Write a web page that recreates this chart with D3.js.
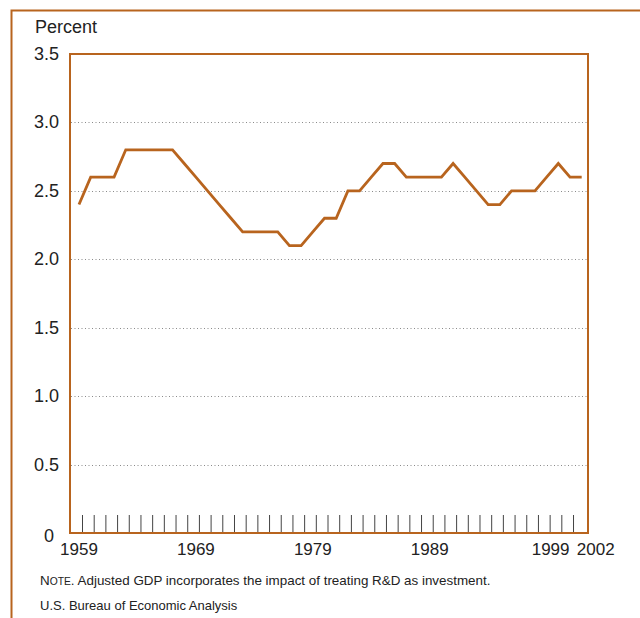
<!DOCTYPE html>
<html>
<head>
<meta charset="utf-8">
<script src="https://cdn.jsdelivr.net/npm/d3@7"></script>
<style>
  body { margin: 0; background: #fff; }
  text { font-family: "Liberation Sans", Arial, sans-serif; fill: #222; }
</style>
</head>
<body>
<svg id="chart" width="640" height="618"></svg>
<script>
// R&D investment as a share of adjusted GDP, 1959-2002 (percent)
const years = d3.range(1959, 2003);
const rdShare = [2.4, 2.6, 2.6, 2.6, 2.8, 2.8, 2.8, 2.8, 2.8, 2.7, 2.6, 2.5, 2.4, 2.3,
                 2.2, 2.2, 2.2, 2.2, 2.1, 2.1, 2.2, 2.3, 2.3, 2.5, 2.5, 2.6, 2.7, 2.7,
                 2.6, 2.6, 2.6, 2.6, 2.7, 2.6, 2.5, 2.4, 2.4, 2.5, 2.5, 2.5, 2.6, 2.7,
                 2.6, 2.6];
const yTicks = [0, 0.5, 1.0, 1.5, 2.0, 2.5, 3.0, 3.5];
const xLabels = [1959, 1969, 1979, 1989, 1999, 2002];

const ORANGE = "#b8641e";

function drawChart() {
    const svg = d3.select("#chart");
    svg.selectAll("*").remove();

    const frame = { left: 70, right: 588, top: 54, bottom: 533 };

    const x = d3.scaleLinear()
        .domain([1959, 2002])
        .range([79, 581.7]);

    const y = d3.scaleLinear()
        .domain([0, 3.5])
        .range([frame.bottom, frame.top]);

    // outer border (left + top edges only)
    svg.append("path")
        .attr("d", `M11.5,618V10.5H640`)
        .attr("fill", "none")
        .attr("stroke", ORANGE)
        .attr("stroke-width", 2);

    // dotted gridlines
    svg.selectAll(".grid")
        .data(yTicks.filter(d => d > 0 && d < 3.5))
        .enter().append("line")
        .attr("class", "grid")
        .attr("x1", frame.left + 1)
        .attr("x2", frame.right - 1)
        .attr("y1", d => Math.round(y(d)) + 0.5)
        .attr("y2", d => Math.round(y(d)) + 0.5)
        .attr("stroke", "#8a8a8a")
        .attr("stroke-width", 1)
        .attr("stroke-dasharray", "1,2.5");

    // yearly tick marks along the bottom
    svg.selectAll(".tick")
        .data(years.slice(0, -1))
        .enter().append("line")
        .attr("class", "tick")
        .attr("x1", d => x(d + 0.3))
        .attr("x2", d => x(d + 0.3))
        .attr("y1", frame.bottom - 18)
        .attr("y2", frame.bottom)
        .attr("stroke", "#444")
        .attr("stroke-width", 1);

    // plot frame
    svg.append("rect")
        .attr("x", frame.left)
        .attr("y", frame.top)
        .attr("width", frame.right - frame.left)
        .attr("height", frame.bottom - frame.top)
        .attr("fill", "none")
        .attr("stroke", ORANGE)
        .attr("stroke-width", 2);

    // the series
    const line = d3.line()
        .x((d, i) => x(years[i]))
        .y(d => y(d));

    svg.append("path")
        .datum(rdShare)
        .attr("d", line)
        .attr("fill", "none")
        .attr("stroke", ORANGE)
        .attr("stroke-width", 2.8)
        .attr("stroke-linejoin", "miter");

    // y labels
    svg.selectAll(".ylab")
        .data(yTicks)
        .enter().append("text")
        .attr("class", "ylab")
        .attr("x", d => d === 0 ? 54 : 59)
        .attr("y", d => y(d) + (d === 0 ? 9 : 6))
        .attr("text-anchor", "end")
        .style("font-size", "18px")
        .text(d => d === 0 ? "0" : d.toFixed(1));

    svg.append("text")
        .attr("x", 35)
        .attr("y", 33)
        .style("font-size", "18px")
        .text("Percent");

    // x labels (last two nudged right so they don't collide)
    svg.selectAll(".xlab")
        .data(xLabels)
        .enter().append("text")
        .attr("class", "xlab")
        .attr("x", d => x(d))
        .attr("dx", d => d === 2002 ? 14 : d === 1999 ? 4 : 0)
        .attr("y", 555)
        .attr("text-anchor", "middle")
        .style("font-size", "17px")
        .text(d => d);

    // note and source
    const note = svg.append("text")
        .attr("x", 40)
        .attr("y", 585)
        .style("font-size", "13.4px");
    note.append("tspan").text("N");
    note.append("tspan").style("font-size", "10.3px").text("OTE");
    note.append("tspan").text(". Adjusted GDP incorporates the impact of treating R&D as investment.");

    svg.append("text")
        .attr("x", 40)
        .attr("y", 610)
        .style("font-size", "13px")
        .text("U.S. Bureau of Economic Analysis");
}

document.addEventListener("DOMContentLoaded", drawChart);
</script>
</body>
</html>
